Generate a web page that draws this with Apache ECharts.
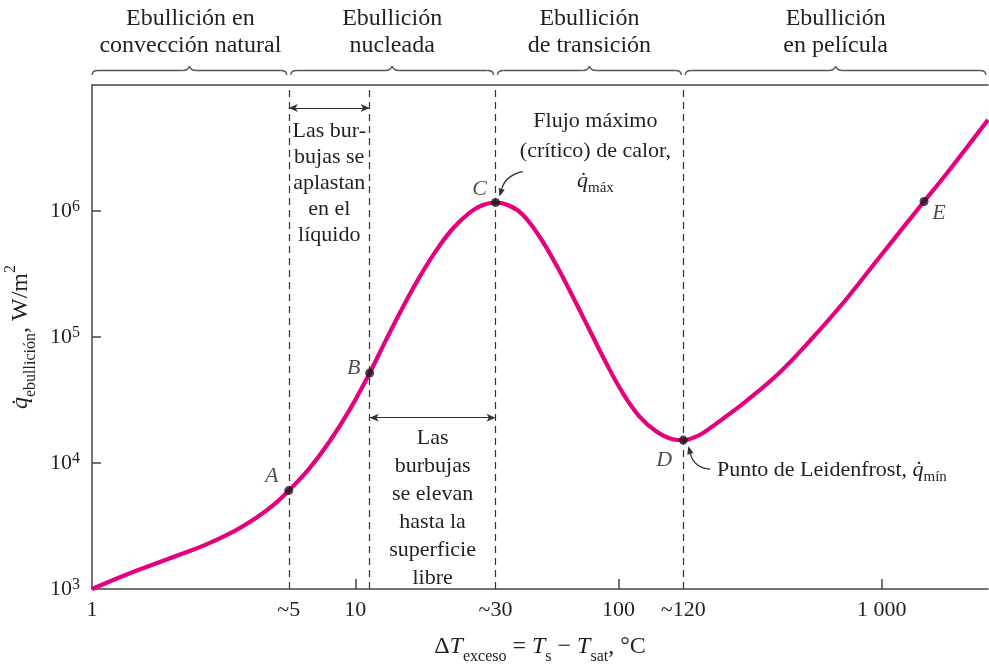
<!DOCTYPE html>
<html>
<head>
<meta charset="utf-8">
<script src="https://cdn.jsdelivr.net/npm/echarts@6/dist/echarts.min.js"></script>
<style>
  html, body { margin: 0; padding: 0; background: #fff; }
  #chart { width: 989px; height: 666px; }
</style>
</head>
<body>
<div id="chart"></div>
<script>
// curva de ebullicion
const dtExceso = [1, 1.456, 2.253, 2.803, 3.487, 4.154, 4.946, 5.589, 6.672, 7.962, 9.501, 11.34, 13.13, 15.21, 17.62, 20.40, 23.62, 27.35, 30.53, 34.09, 38.53, 43.27, 50.06, 57.94, 66.96, 77.49, 89.68, 103.7, 119.9, 138.8, 160.4, 176.1, 199.1, 213.5, 254.2, 304.5, 407.4, 544.9, 729.5, 975.9, 1446, 1748, 2530];
const qEbullicion = [1000, 1382, 1937, 2325, 2894, 3603, 4741, 6040, 8995, 14670, 26270, 51820, 96230, 174800, 304000, 494000, 736000, 980200, 1116000, 1168000, 1100000, 933300, 627800, 374400, 209900, 114300, 62210, 35960, 23460, 17840, 15440, 15190, 16350, 17810, 23160, 30850, 51820, 98200, 197600, 425600, 1189000, 1937000, 5287000];

const puntosNombre = ['A', 'B', 'C', 'D', 'E'];
const puntosDT = [5.589, 11.34, 34.09, 176.1, 1446];
const puntosQ = [6040, 51820, 1168000, 15190, 1189000];

const xTickValues = [1, 5.589, 10, 34.09, 100, 176.1, 1000];
const xTickLabels = ['1', '~5', '10', '~30', '100', '~120', '1 000'];
const xMinorTicks = [10, 100, 1000];
const yTickValues = [1e3, 1e4, 1e5, 1e6];
const yMinorTicks = [1e4, 1e5, 1e6];

const regionLimits = [1, 5.589, 34.09, 176.1, 2530];
const regionNames = ['Ebullición en\nconvección natural', 'Ebullición\nnucleada', 'Ebullición\nde transición', 'Ebullición\nen película'];
const dashedAt = [5.589, 11.34, 34.09, 176.1];

const flechaAplastan = [[5.589, 6.58e6], [11.34, 6.58e6]];
const flechaElevan = [[11.34, 22910], [34.09, 22910]];

const serif = "'Liberation Serif', 'Times New Roman', serif";
const ink = '#231f20';
const magenta = '#e6007e';

const chart = echarts.init(document.getElementById('chart'));

function xLabelFor(v) {
  let k = 0;
  xTickValues.forEach(function (t, i) {
    if (Math.abs(Math.log10(t) - Math.log10(v)) < Math.abs(Math.log10(xTickValues[k]) - Math.log10(v))) k = i;
  });
  return xTickLabels[k];
}

const richTxt = {
  n: { fontFamily: serif, fontSize: 24, color: ink, lineHeight: 36 },
  i: { fontFamily: serif, fontSize: 24, color: ink, fontStyle: 'italic', lineHeight: 36 },
  s: { fontFamily: serif, fontSize: 16, color: ink, lineHeight: 16, verticalAlign: 'bottom' },
  p: { fontFamily: serif, fontSize: 16, color: ink, lineHeight: 16, verticalAlign: 'top' }
};

const option = {
  backgroundColor: '#fff',
  animation: false,
  grid: { left: 92, right: 1, top: 85, bottom: 77, outerBoundsMode: 'none', containLabel: false },
  xAxis: [
    {
      type: 'log', min: 1, max: 2530,
      axisLine: { lineStyle: { color: '#444', width: 1.5 } },
      axisTick: { inside: true, length: 10, customValues: xMinorTicks, lineStyle: { color: '#444', width: 1.5 } },
      axisLabel: { customValues: xTickValues, formatter: xLabelFor, fontFamily: serif, fontSize: 22, color: ink, margin: 10 },
      splitLine: { show: false },
      name: '{n|Δ}{i|T}{s|exceso}{n| = }{i|T}{s|s}{n| − }{i|T}{s|sat}{n|, °C}',
      nameLocation: 'middle',
      nameGap: 40,
      nameTextStyle: { rich: richTxt }
    },
    {
      type: 'log', min: 1, max: 2530, position: 'top',
      axisLine: { lineStyle: { color: '#444', width: 1.5 } },
      axisTick: { show: false },
      axisLabel: { show: false },
      splitLine: { show: false }
    }
  ],
  yAxis: {
    type: 'log', min: 1e3, max: 1e7,
    axisLine: { lineStyle: { color: '#444', width: 1.5 } },
    axisTick: { inside: true, length: 9, customValues: yMinorTicks, lineStyle: { color: '#444', width: 1.5 } },
    axisLabel: {
      customValues: yTickValues,
      margin: 12,
      formatter: function (v) { return '{b|10}{e|' + Math.round(Math.log10(v)) + '}'; },
      rich: {
        b: { fontFamily: serif, fontSize: 22, color: ink, lineHeight: 24 },
        e: { fontFamily: serif, fontSize: 16, color: ink, lineHeight: 16, verticalAlign: 'top' }
      }
    },
    splitLine: { show: false },
    name: '{i|q\u0307}{s|ebullición}{n|, W/m}{p|2}',
    nameLocation: 'middle',
    nameRotate: 90,
    nameGap: 52,
    nameTextStyle: { rich: richTxt }
  },
  series: [
    {
      type: 'line', data: [], z: 1, silent: true,
      markLine: {
        silent: true, symbol: ['none', 'none'], label: { show: false },
        lineStyle: { type: [7, 5], color: '#333', width: 1.2 },
        data: dashedAt.map(function (v) { return { xAxis: v }; })
      }
    },
    {
      type: 'line', data: [], z: 1, silent: true,
      markLine: {
        silent: true, symbol: ['arrow', 'arrow'], symbolSize: [6, 9], label: { show: false },
        lineStyle: { type: 'solid', color: '#333', width: 1.2 },
        data: [
          [{ coord: flechaAplastan[0] }, { coord: flechaAplastan[1] }],
          [{ coord: flechaElevan[0] }, { coord: flechaElevan[1] }]
        ]
      }
    },
    {
      type: 'line', z: 3, smooth: 0.4, symbol: 'none',
      lineStyle: { color: magenta, width: 4.2 },
      data: dtExceso.map(function (x, i) { return [x, qEbullicion[i]]; })
    },
    {
      type: 'scatter', z: 5, symbolSize: 9,
      itemStyle: { color: '#1a1a1a' },
      label: { show: true, position: 'inside', formatter: '{b}', fontFamily: serif, fontStyle: 'italic', fontSize: 22, color: ink },
      data: puntosNombre.map(function (n, i) {
        const off = [[-17, -14], [-16, -5], [-16, -13], [-19, 20], [15, 12]][i];
        return { name: n, value: [puntosDT[i], puntosQ[i]], label: { offset: off } };
      })
    }
  ]
};

chart.setOption(option);

// anotaciones
const px = function (x, y) { return chart.convertToPixel({ seriesIndex: 2 }, [x, y]); };
const g = [];
const rightPx = px(2530, 1e3)[0];
const braceStroke = { stroke: '#555', lineWidth: 1.3, fill: null };

function curve(a, c, b) {
  g.push({ type: 'bezierCurve', silent: true, shape: { x1: a[0], y1: a[1], cpx1: c[0], cpy1: c[1], x2: b[0], y2: b[1] }, style: braceStroke });
}
function seg(a, b) {
  g.push({ type: 'line', silent: true, shape: { x1: a[0], y1: a[1], x2: b[0], y2: b[1] }, style: braceStroke });
}
function brace(x1, x2) {
  const m = (x1 + x2) / 2, y = 70.5;
  curve([x1, 75], [x1, y], [x1 + 6, y]);
  seg([x1 + 6, y], [m - 7, y]);
  curve([m - 7, y], [m - 1, y], [m, 66]);
  curve([m, 66], [m + 1, y], [m + 7, y]);
  seg([m + 7, y], [x2 - 6, y]);
  curve([x2 - 6, y], [x2, y], [x2, 75]);
}

for (let i = 0; i < regionNames.length; i++) {
  const a = px(regionLimits[i], 1e3)[0];
  const b = Math.min(px(regionLimits[i + 1], 1e3)[0], rightPx);
  brace(a + (i ? 2 : 0), b - 2);
  g.push({
    type: 'text', silent: true, x: (a + b) / 2, y: 5,
    style: { text: regionNames[i], font: '24px ' + serif, fill: ink, align: 'center', verticalAlign: 'top', lineHeight: 27 }
  });
}

const xd = dashedAt.map(function (v) { return px(v, 1e3)[0]; });
g.push({
  type: 'text', silent: true, x: (xd[0] + xd[1]) / 2, y: 118,
  style: { text: 'Las bur-\nbujas se\naplastan\nen el\nlíquido', font: '22px ' + serif, fill: ink, align: 'center', verticalAlign: 'top', lineHeight: 26 }
});
g.push({
  type: 'text', silent: true, x: (xd[1] + xd[2]) / 2, y: 424,
  style: { text: 'Las\nburbujas\nse elevan\nhasta la\nsuperficie\nlibre', font: '22px ' + serif, fill: ink, align: 'center', verticalAlign: 'top', lineHeight: 28 }
});

const rich2 = {
  n: { fontFamily: serif, fontSize: 22, fill: ink, lineHeight: 30 },
  i: { fontFamily: serif, fontSize: 22, fill: ink, fontStyle: 'italic', lineHeight: 30 },
  s: { fontFamily: serif, fontSize: 15, fill: ink, lineHeight: 15, verticalAlign: 'bottom' }
};
g.push({
  type: 'text', silent: true, x: (xd[2] + xd[3]) / 2 + 6, y: 106,
  style: { text: '{n|Flujo máximo}\n{n|(crítico) de calor,}\n{i|q\u0307}{s|máx}', rich: rich2, align: 'center', verticalAlign: 'top' }
});
g.push({
  type: 'text', silent: true, x: 717, y: 470,
  style: { text: '{n|Punto de Leidenfrost, }{i|q\u0307}{s|mín}', rich: rich2, align: 'left', verticalAlign: 'middle' }
});

function curvedArrow(tail, ctrl, head) {
  const dx = head[0] - ctrl[0], dy = head[1] - ctrl[1];
  const L = Math.sqrt(dx * dx + dy * dy);
  const ux = dx / L, uy = dy / L;
  const bx = head[0] - ux * 8, by = head[1] - uy * 8;
  g.push({
    type: 'bezierCurve', silent: true,
    shape: { x1: tail[0], y1: tail[1], x2: bx, y2: by, cpx1: ctrl[0], cpy1: ctrl[1] },
    style: { stroke: '#333', lineWidth: 1.3, fill: null }
  });
  g.push({
    type: 'polygon', silent: true,
    shape: { points: [head, [bx - uy * 3.2, by + ux * 3.2], [bx + uy * 3.2, by - ux * 3.2]] },
    style: { fill: '#333' }
  });
}
const pC = px(puntosDT[2], puntosQ[2]);
const pD = px(puntosDT[3], puntosQ[3]);
curvedArrow([pC[0] + 27, pC[1] - 31], [pC[0] + 10, pC[1] - 27], [pC[0] + 4, pC[1] - 6]);
curvedArrow([pD[0] + 27, pD[1] + 29], [pD[0] + 11, pD[1] + 28], [pD[0] + 5, pD[1] + 6]);

chart.setOption({ graphic: g });
</script>
</body>
</html>
